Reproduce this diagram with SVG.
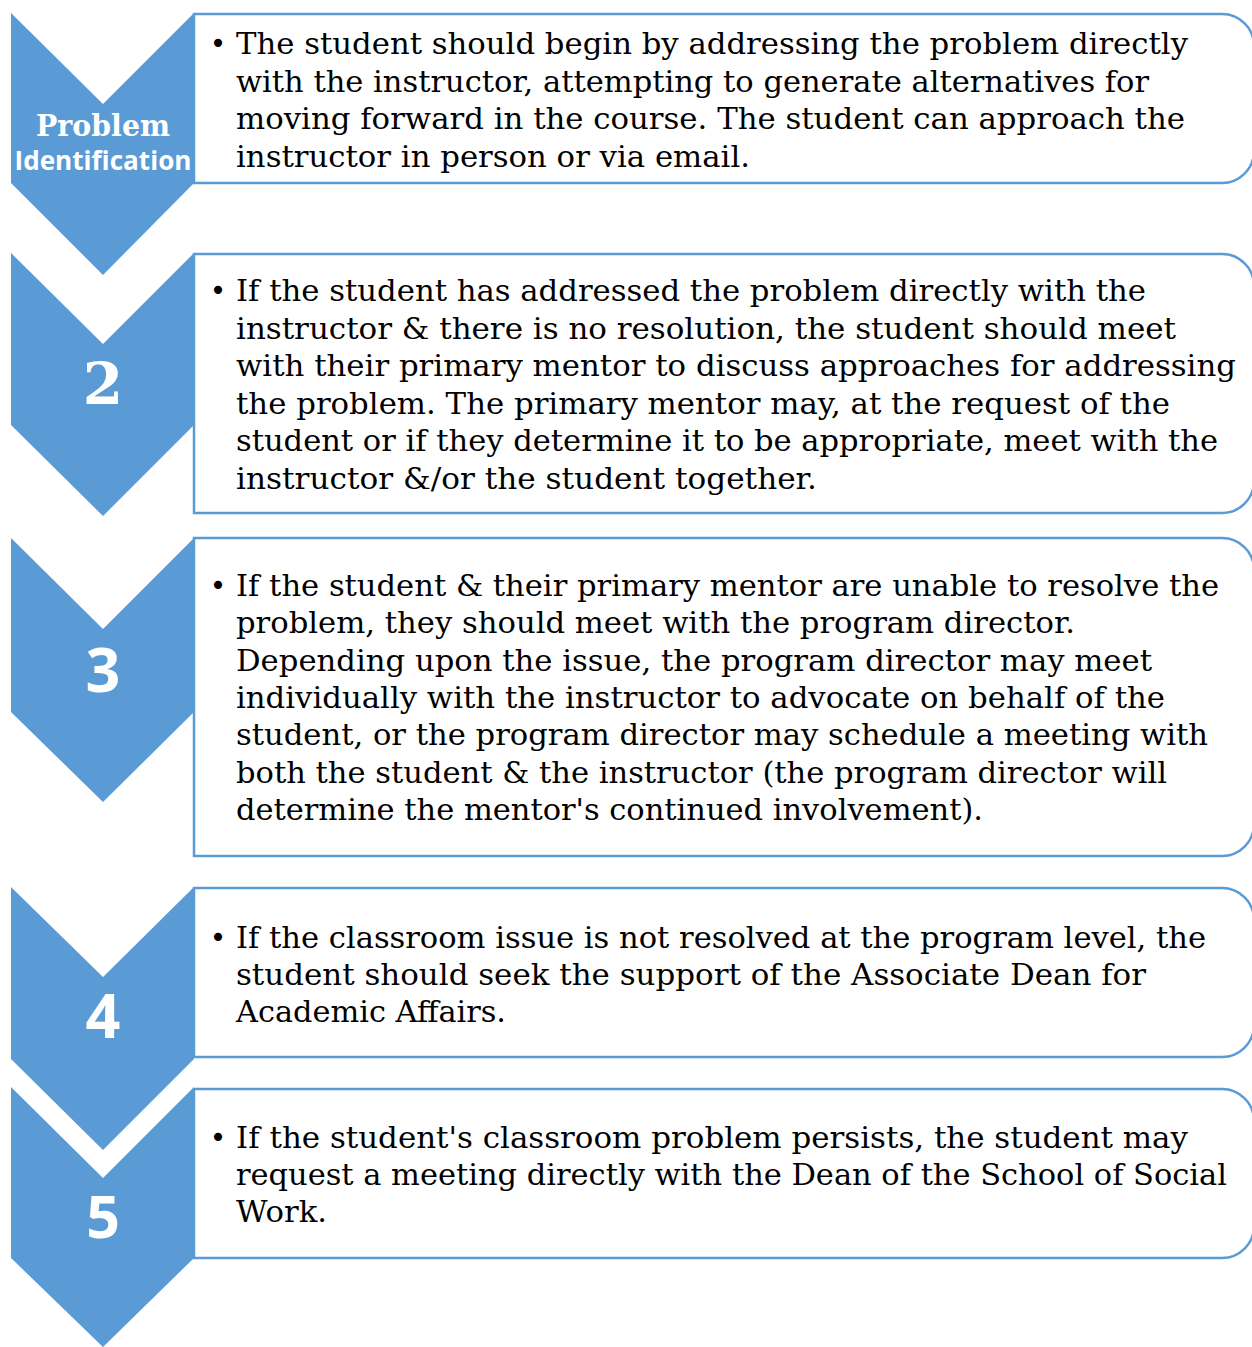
<svg xmlns="http://www.w3.org/2000/svg" width="1252" height="1347" viewBox="0 0 1252 1347">
  <style>
    .box { fill: #ffffff; stroke: #5b9bd5; stroke-width: 2.5; }
    .chev { fill: #5b9bd5; }
    .body { font-family: "DejaVu Serif", "Liberation Serif", serif; font-size: 30px; fill: #000000; }
    .bullet { font-family: "DejaVu Sans", "Liberation Sans", sans-serif; font-size: 28px; fill: #000000; text-anchor: middle; }
    .lblSerif { font-family: "DejaVu Serif", "Liberation Serif", serif; font-weight: bold; fill: #ffffff; text-anchor: middle; }
    .lblSans { font-family: "Open Sans", "DejaVu Sans", sans-serif; font-weight: bold; fill: #ffffff; text-anchor: middle; }
  </style>

  <!-- step 1 -->
  <g id="step1">
    <path class="box" d="M194,14 H1222 A32,32 0 0 1 1254,46 V151 A32,32 0 0 1 1222,183 H194 Z"/>
    <path class="chev" d="M11,13 L103,104 L194,13 V183 L103,275 L11,183 Z"/>
    <text class="lblSerif" x="103" y="136" font-size="29" textLength="134" lengthAdjust="spacingAndGlyphs">Problem</text>
    <text class="lblSans" x="103" y="170" font-size="27" textLength="177" lengthAdjust="spacingAndGlyphs">Identification</text>
    <text class="bullet" x="218" y="53">•</text>
    <text class="body" x="236" y="54" textLength="952" lengthAdjust="spacingAndGlyphs">The student should begin by addressing the problem directly</text>
    <text class="body" x="236" y="91.5" textLength="913" lengthAdjust="spacingAndGlyphs">with the instructor, attempting to generate alternatives for</text>
    <text class="body" x="236" y="129" textLength="949" lengthAdjust="spacingAndGlyphs">moving forward in the course. The student can approach the</text>
    <text class="body" x="236" y="166.5" textLength="514" lengthAdjust="spacingAndGlyphs">instructor in person or via email.</text>
  </g>

  <!-- step 2 -->
  <g id="step2">
    <path class="box" d="M194,254 H1222 A32,32 0 0 1 1254,286 V481 A32,32 0 0 1 1222,513 H194 Z"/>
    <path class="chev" d="M11,253 L103,344 L194,253 V425 L103,516 L11,425 Z"/>
    <text class="lblSerif" x="103" y="404" font-size="58">2</text>
    <text class="bullet" x="218" y="300">•</text>
    <text class="body" x="236" y="301" textLength="910" lengthAdjust="spacingAndGlyphs">If the student has addressed the problem directly with the</text>
    <text class="body" x="236" y="338.5" textLength="940" lengthAdjust="spacingAndGlyphs">instructor &amp; there is no resolution, the student should meet</text>
    <text class="body" x="236" y="376" textLength="1000" lengthAdjust="spacingAndGlyphs">with their primary mentor to discuss approaches for addressing</text>
    <text class="body" x="236" y="413.5" textLength="934" lengthAdjust="spacingAndGlyphs">the problem. The primary mentor may, at the request of the</text>
    <text class="body" x="236" y="451" textLength="982" lengthAdjust="spacingAndGlyphs">student or if they determine it to be appropriate, meet with the</text>
    <text class="body" x="236" y="488.5" textLength="581" lengthAdjust="spacingAndGlyphs">instructor &amp;/or the student together.</text>
  </g>

  <!-- step 3 -->
  <g id="step3">
    <path class="box" d="M194,538 H1222 A32,32 0 0 1 1254,570 V824 A32,32 0 0 1 1222,856 H194 Z"/>
    <path class="chev" d="M11,538 L103,629 L194,538 V712 L103,802 L11,712 Z"/>
    <text class="lblSans" x="103" y="692" font-size="61">3</text>
    <text class="bullet" x="218" y="595">•</text>
    <text class="body" x="236" y="596" textLength="983" lengthAdjust="spacingAndGlyphs">If the student &amp; their primary mentor are unable to resolve the</text>
    <text class="body" x="236" y="633.3" textLength="839" lengthAdjust="spacingAndGlyphs">problem, they should meet with the program director.</text>
    <text class="body" x="236" y="670.6" textLength="916" lengthAdjust="spacingAndGlyphs">Depending upon the issue, the program director may meet</text>
    <text class="body" x="236" y="707.9" textLength="929" lengthAdjust="spacingAndGlyphs">individually with the instructor to advocate on behalf of the</text>
    <text class="body" x="236" y="745.2" textLength="972" lengthAdjust="spacingAndGlyphs">student, or the program director may schedule a meeting with</text>
    <text class="body" x="236" y="782.5" textLength="931" lengthAdjust="spacingAndGlyphs">both the student &amp; the instructor (the program director will</text>
    <text class="body" x="236" y="819.8" textLength="747" lengthAdjust="spacingAndGlyphs">determine the mentor's continued involvement).</text>
  </g>

  <!-- step 4 -->
  <g id="step4">
    <path class="box" d="M194,888 H1222 A32,32 0 0 1 1254,920 V1025 A32,32 0 0 1 1222,1057 H194 Z"/>
    <path class="chev" d="M11,887 L103,977 L194,887 V1059 L103,1150 L11,1059 Z"/>
    <text class="lblSans" x="103" y="1038" font-size="61">4</text>
    <text class="bullet" x="218" y="947">•</text>
    <text class="body" x="236" y="948" textLength="970" lengthAdjust="spacingAndGlyphs">If the classroom issue is not resolved at the program level, the</text>
    <text class="body" x="236" y="985" textLength="910" lengthAdjust="spacingAndGlyphs">student should seek the support of the Associate Dean for</text>
    <text class="body" x="236" y="1022" textLength="270" lengthAdjust="spacingAndGlyphs">Academic Affairs.</text>
  </g>

  <!-- step 5 -->
  <g id="step5">
    <path class="box" d="M194,1089 H1222 A32,32 0 0 1 1254,1121 V1226 A32,32 0 0 1 1222,1258 H194 Z"/>
    <path class="chev" d="M11,1087 L103,1178 L194,1087 V1258 L103,1347 L11,1258 Z"/>
    <text class="lblSans" x="103" y="1238" font-size="59">5</text>
    <text class="bullet" x="218" y="1147">•</text>
    <text class="body" x="236" y="1148" textLength="952" lengthAdjust="spacingAndGlyphs">If the student's classroom problem persists, the student may</text>
    <text class="body" x="236" y="1185" textLength="991" lengthAdjust="spacingAndGlyphs">request a meeting directly with the Dean of the School of Social</text>
    <text class="body" x="236" y="1222" textLength="91" lengthAdjust="spacingAndGlyphs">Work.</text>
  </g>

  <!-- no separate connectors: the chevrons nest into each other -->
  <g id="connectors"/>
</svg>
